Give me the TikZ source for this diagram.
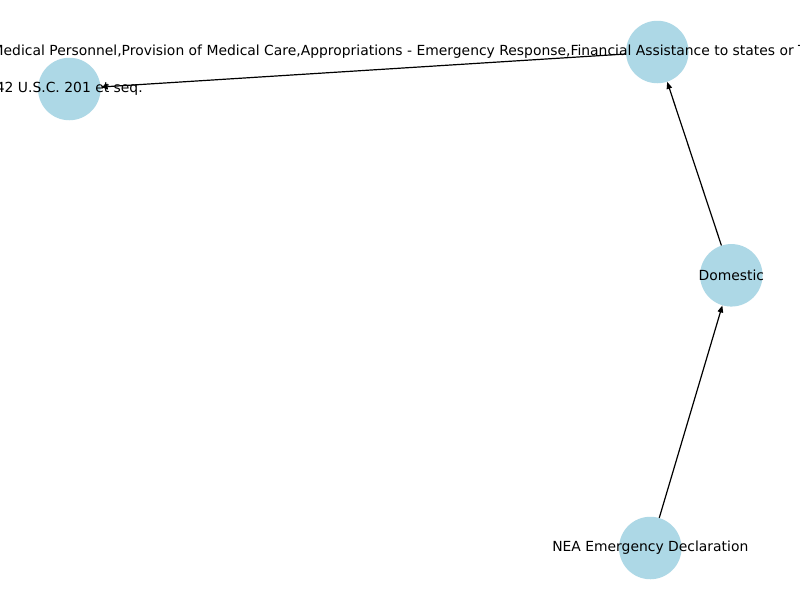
\documentclass[tikz,border=0pt]{standalone}
\usepackage{fontspec}
\setmainfont{DejaVu Sans}
\usetikzlibrary{arrows.meta}
\begin{document}
\begin{tikzpicture}[x=1pt,y=-1pt,
  vertex/.style={circle,fill=nodeblue,draw=none,minimum size=62.5pt,inner sep=0pt},
  lbl/.style={inner sep=0pt,font=\fontsize{13.9}{16}\selectfont,text=black},
  edge/.style={draw=black,line width=1.2pt,-{Triangle[length=7pt,width=5.5pt]}}]
\definecolor{nodeblue}{HTML}{ADD8E6}
\useasboundingbox (0,0) rectangle (800,600);
\clip (0,0) rectangle (800,600);
\fill[white] (0,0) rectangle (800,600);
\node[vertex] (a) at (69.3,89) {};
\node[vertex] (b) at (657.3,52) {};
\node[vertex] (c) at (731.3,275.3) {};
\node[vertex] (d) at (650.3,548) {};
\draw[edge] (d) -- (c);
\draw[edge] (c) -- (b);
\draw[edge] (b) -- (a);
\node[lbl] (la) at (a.center) {42 U.S.C. 201 et seq.};
\node[lbl,anchor=west] (lb) at (-8.5,52) {Medical Personnel,Provision of Medical Care,Appropriations - Emergency Response,Financial Assistance to states or T};
\node[lbl] (lc) at (c.center) {Domestic};
\node[lbl] (ld) at (d.center) {NEA Emergency Declaration};
\end{tikzpicture}
\end{document}
